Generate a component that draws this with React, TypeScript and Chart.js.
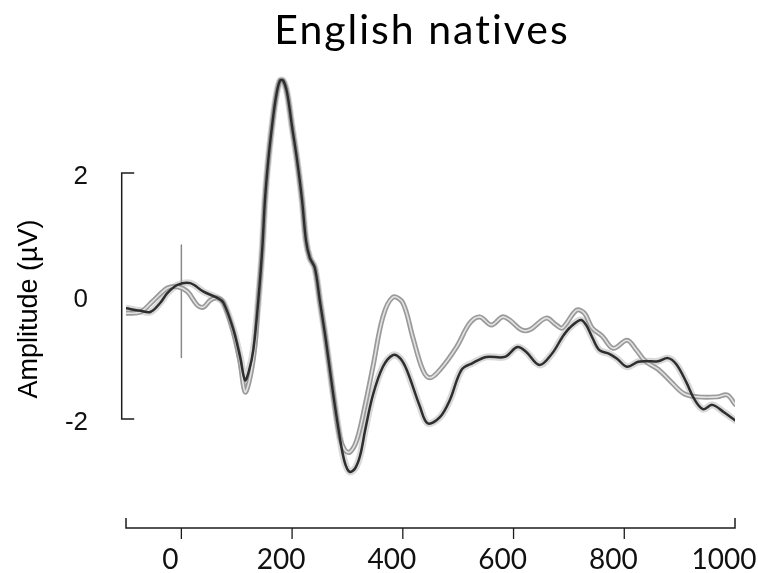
import { useEffect, useRef } from "react";
import { Chart, registerables } from "chart.js";

Chart.register(...registerables);

// Text
const TITLE = "English natives";
const Y_TITLE = "Amplitude (µV)";

// Axes
const X_MIN = -100;
const X_MAX = 1000;
const X_TICKS = [0, 200, 400, 600, 800, 1000];
const Y_MIN = -3.772;
const Y_MAX = 3.7;
const Y_TICKS = [-2, 0, 2];
const Y_BRACKET = [-2, 2];

// Stimulus onset marker (ms, µV extent)
const ONSET_MS = 0;
const ONSET_SPAN = [0.83, -1.0];

// Condition drawn in dark grey
const darkTimes = [
  -100, -74, -56, -38, -25, -7, 16, 40, 65, 76,
  94, 106, 115, 122, 130, 139, 146, 151, 157, 164,
  171, 178, 184, 191, 200, 209, 218, 225, 232, 241,
  250, 261, 274, 286, 295, 304, 314, 323, 332, 346,
  364, 382, 395, 407, 431, 445, 467, 485, 506, 526,
  551, 584, 607, 623, 647, 670, 688, 701, 721, 731,
  742, 755, 773, 787, 805, 825, 840, 861, 879, 894,
  912, 926, 942, 959, 980, 1000,
];
const darkAmp = [
  -0.2, -0.24, -0.26, -0.11, 0.05, 0.18, 0.21, 0.07, -0.03, -0.11,
  -0.55, -0.99, -1.37, -1.22, -0.88, -0.07, 0.75, 1.56, 2.21, 2.78,
  3.24, 3.5, 3.5, 3.3, 2.75, 2.21, 1.56, 0.91, 0.62, 0.46,
  -0.07, -0.72, -1.58, -2.29, -2.7, -2.86, -2.8, -2.59, -2.18, -1.61,
  -1.15, -0.96, -1.01, -1.2, -1.8, -2.07, -1.97, -1.69, -1.2, -1.09,
  -0.99, -0.99, -0.83, -0.91, -1.12, -0.93, -0.67, -0.52, -0.39, -0.47,
  -0.67, -0.88, -0.94, -1.02, -1.15, -1.07, -1.06, -1.06, -1.01, -1.11,
  -1.4, -1.67, -1.84, -1.77, -1.89, -2.02,
];

// Condition drawn in light grey
const lightTimes = [
  -100, -74, -50, -25, -7, 11, 29, 40, 52, 65,
  76, 94, 106, 115, 124, 133, 139, 146, 151, 157,
  164, 171, 178, 184, 191, 200, 209, 218, 225, 232,
  241, 250, 261, 274, 286, 295, 304, 317, 332, 346,
  364, 382, 400, 418, 436, 449, 467, 497, 521, 539,
  560, 580, 593, 614, 629, 659, 677, 688, 714, 728,
  742, 760, 780, 805, 822, 838, 861, 885, 908, 933,
  968, 986, 1000,
];
const lightAmp = [
  -0.28, -0.26, -0.07, 0.13, 0.15, 0.07, -0.15, -0.18, -0.07, -0.03,
  -0.11, -0.59, -1.07, -1.56, -1.33, -0.8, -0.07, 0.75, 1.56, 2.21,
  2.78, 3.24, 3.5, 3.5, 3.3, 2.75, 2.21, 1.56, 0.91, 0.62,
  0.46, -0.07, -0.72, -1.58, -2.29, -2.5, -2.54, -2.34, -1.77, -1.15,
  -0.34, -0.02, -0.11, -0.67, -1.2, -1.33, -1.2, -0.83, -0.44, -0.34,
  -0.47, -0.34, -0.39, -0.55, -0.55, -0.36, -0.47, -0.52, -0.23, -0.28,
  -0.52, -0.65, -0.85, -0.72, -0.88, -1.06, -1.19, -1.4, -1.59, -1.64,
  -1.64, -1.61, -1.76,
];

const toPoints = (ts: number[], vs: number[]) => ts.map((t, i) => ({ x: t, y: vs[i] }));

const AXIS_COLOR = "#1c1c1c";

// Draws the bracket-style y axis, the detached time axis and the titles.
const framePlugin = {
  id: "erpFrame",
  beforeDatasetsDraw(chart: any) {
    const { ctx, chartArea, scales } = chart;
    const xs = scales.x;
    const ys = scales.y;
    ctx.save();
    ctx.strokeStyle = AXIS_COLOR;
    ctx.lineWidth = 1.5;

    // y bracket
    const bx = chartArea.left - 4.3;
    const yTop = ys.getPixelForValue(Y_BRACKET[1]);
    const yBot = ys.getPixelForValue(Y_BRACKET[0]);
    ctx.beginPath();
    ctx.moveTo(bx + 12.5, yTop);
    ctx.lineTo(bx, yTop);
    ctx.lineTo(bx, yBot);
    ctx.lineTo(bx + 12.5, yBot);
    ctx.stroke();

    // time axis with end caps
    const ay = chartArea.bottom;
    const x0 = xs.getPixelForValue(X_MIN);
    const x1 = xs.getPixelForValue(X_MAX);
    ctx.beginPath();
    ctx.moveTo(x0, ay - 10);
    ctx.lineTo(x0, ay);
    ctx.lineTo(x1, ay);
    ctx.lineTo(x1, ay - 10);
    ctx.stroke();
    ctx.lineWidth = 1.3;
    ctx.beginPath();
    X_TICKS.filter((v) => v < X_MAX).forEach((v) => {
      const px = xs.getPixelForValue(v);
      ctx.moveTo(px, ay);
      ctx.lineTo(px, ay + 11);
    });
    ctx.stroke();

    // chart title
    ctx.fillStyle = "#000";
    ctx.font = "41px Lato";
    ctx.textAlign = "center";
    ctx.textBaseline = "alphabetic";
    (ctx as any).letterSpacing = "2px";
    ctx.fillText(TITLE, 422, 44);
    (ctx as any).letterSpacing = "0px";

    // y axis title
    ctx.translate(30, 309);
    ctx.rotate(-Math.PI / 2);
    ctx.font = "27px 'Liberation Sans'";
    ctx.textBaseline = "middle";
    ctx.fillText(Y_TITLE, 0, 0);
    ctx.restore();
  },
};

export default function App() {
  const canvasRef = useRef<HTMLCanvasElement>(null);

  useEffect(() => {
    const canvas = canvasRef.current;
    if (!canvas) return;
    const line = (data: any, color: string, width: number, order: number) => ({
      data,
      borderColor: color,
      backgroundColor: color,
      borderWidth: width,
      pointRadius: 0,
      tension: 0.35,
      fill: false,
      order,
      borderCapStyle: "round" as const,
      borderJoinStyle: "round" as const,
    });
    const dark = toPoints(darkTimes, darkAmp);
    const light = toPoints(lightTimes, lightAmp);
    const onset = [
      { x: ONSET_MS, y: ONSET_SPAN[0] },
      { x: ONSET_MS, y: ONSET_SPAN[1] },
    ];

    const chart = new Chart(canvas, {
      type: "line",
      data: {
        datasets: [
          line(dark, "#2e2e2e", 2.5, 0),
          line(light, "#e2e2e2", 1.6, 1),
          line(light, "#9a9a9a", 5, 2),
          line(dark, "rgba(160,160,160,0.4)", 7, 3),
          { ...line(onset, "#8a8a8a", 1.5, 4), tension: 0 },
        ],
      },
      options: {
        responsive: false,
        animation: false,
        events: [],
        layout: { padding: { top: 68.45, right: 23, left: 0, bottom: 0 } },
        plugins: {
          legend: { display: false },
          tooltip: { enabled: false },
          title: { display: false },
        },
        scales: {
          x: {
            type: "linear",
            min: X_MIN,
            max: X_MAX,
            grid: { display: false, drawTicks: false },
            border: { display: false },
            ticks: {
              color: "#111",
              font: { family: "Lato", size: 28 },
              padding: 15,
              labelOffset: -11,
              maxRotation: 0,
              autoSkip: false,
              callback: (v: any) => String(v),
            },
            afterBuildTicks: (s: any) => {
              s.ticks = X_TICKS.map((v) => ({ value: v }));
            },
            afterFit: (s: any) => {
              s.height = 45;
              s.paddingLeft = 0;
              s.paddingRight = 0;
            },
          },
          y: {
            type: "linear",
            min: Y_MIN,
            max: Y_MAX,
            grid: { display: false, drawTicks: false },
            border: { display: false },
            ticks: {
              color: "#111",
              font: { family: "'Liberation Sans'", size: 26 },
              padding: 38,
              labelOffset: 4,
              callback: (v: any) => String(v),
            },
            afterBuildTicks: (s: any) => {
              s.ticks = Y_TICKS.map((v) => ({ value: v }));
            },
            afterFit: (s: any) => {
              s.width = 126;
              s.paddingTop = 0;
              s.paddingBottom = 0;
            },
          },
        },
      },
      plugins: [framePlugin],
    });
    return () => chart.destroy();
  }, []);

  return (
    <div style={{ position: "absolute", left: 0, top: 0, width: 758, height: 573, background: "#fff" }}>
      <canvas ref={canvasRef} width={758} height={573} style={{ display: "block" }} />
    </div>
  );
}
